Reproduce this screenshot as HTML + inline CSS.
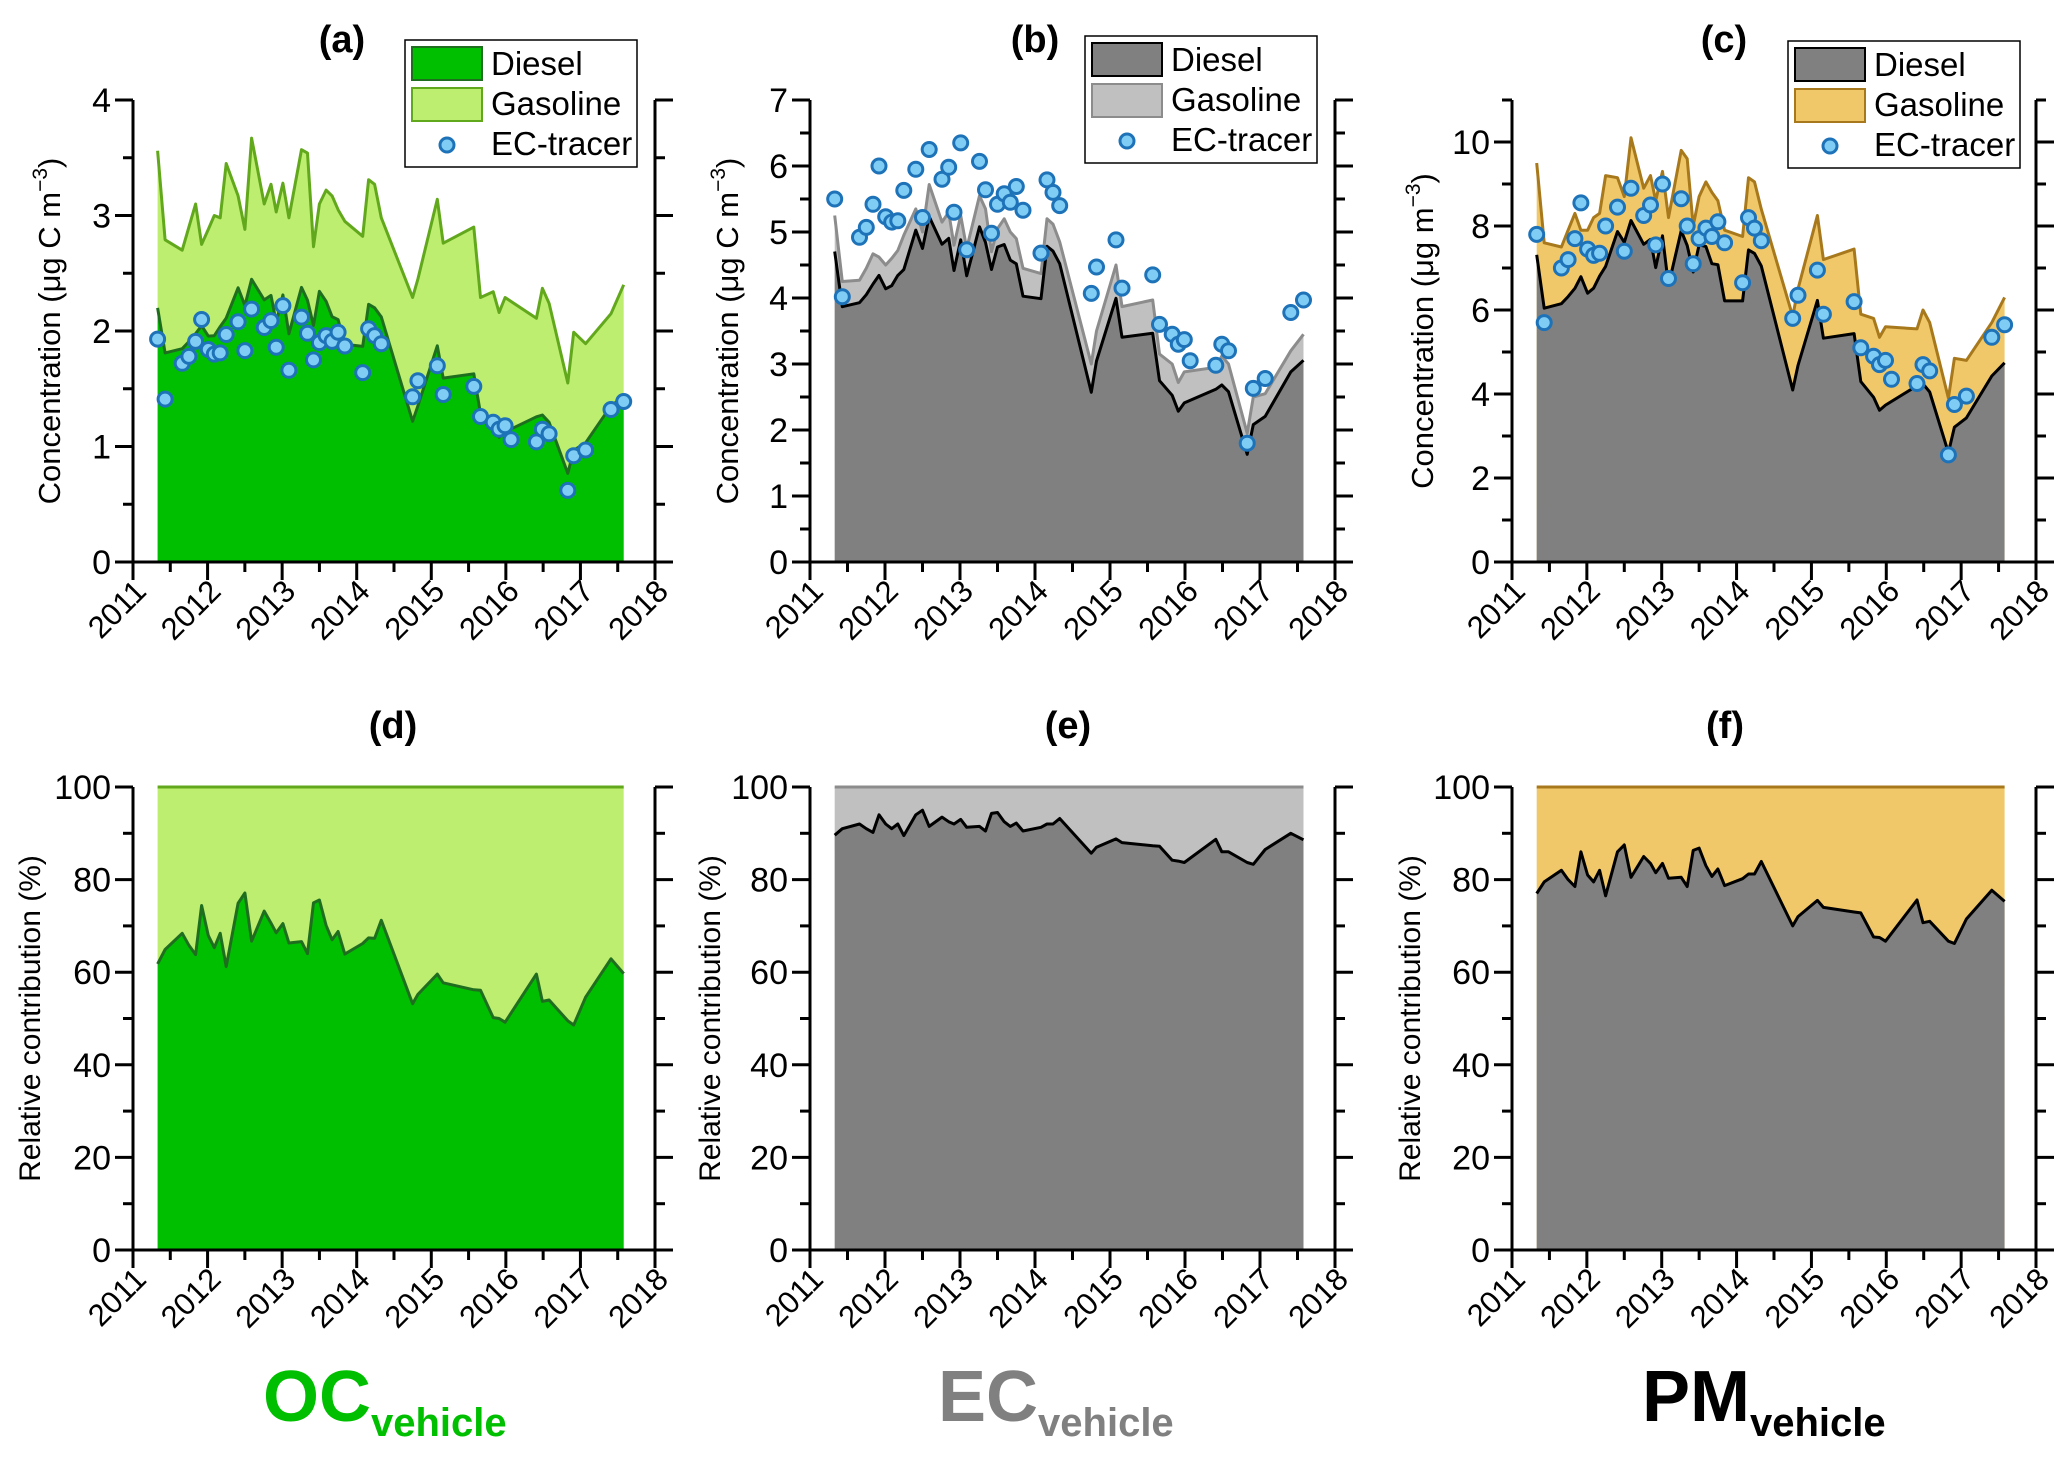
<!DOCTYPE html>
<html><head><meta charset="utf-8">
<style>
html,body{margin:0;padding:0;background:#fff;}
svg{display:block;font-family:"Liberation Sans",Arial,sans-serif;}
</style></head>
<body>
<svg id="fig" width="2067" height="1464" viewBox="0 0 2067 1464" xmlns="http://www.w3.org/2000/svg"></svg>
<script>
// ---- data ----
const dates = [2011.33,2011.43,2011.66,2011.75,2011.84,2011.92,2012.01,2012.09,2012.17,2012.25,2012.41,2012.50,2012.59,2012.76,2012.85,2012.92,2013.01,2013.09,2013.26,2013.34,2013.42,2013.50,2013.59,2013.67,2013.75,2013.84,2014.08,2014.16,2014.24,2014.33,2014.75,2014.82,2015.08,2015.16,2015.57,2015.66,2015.83,2015.91,2015.99,2016.41,2016.49,2016.58,2016.83,2016.91,2017.07,2017.41,2017.58];
const tracerDates = [2011.33,2011.43,2011.66,2011.75,2011.84,2011.92,2012.01,2012.09,2012.17,2012.25,2012.41,2012.50,2012.59,2012.76,2012.85,2012.92,2013.01,2013.09,2013.26,2013.34,2013.42,2013.50,2013.59,2013.67,2013.75,2013.84,2014.08,2014.16,2014.24,2014.33,2014.75,2014.82,2015.08,2015.16,2015.57,2015.66,2015.83,2015.91,2015.99,2016.07,2016.41,2016.49,2016.58,2016.83,2016.91,2017.07,2017.41,2017.58];
// OC
const ocTotal = [3.56,2.79,2.70,2.90,3.10,2.75,2.88,3.00,2.98,3.45,3.17,2.88,3.67,3.10,3.27,3.03,3.28,2.98,3.57,3.54,2.73,3.10,3.22,3.17,3.05,2.95,2.82,3.31,3.27,2.98,2.29,2.45,3.14,2.76,2.90,2.29,2.34,2.16,2.29,2.11,2.37,2.24,1.55,1.99,1.89,2.15,2.40];
const ocDieselShare = [61.8,64.9,68.4,65.8,63.8,74.4,67.9,65.3,68.4,61.2,74.9,77.1,66.7,73.2,70.6,68.5,70.5,66.3,66.6,64.0,75.0,75.6,70.1,67.0,68.8,63.9,66.2,67.4,67.3,71.2,53.2,55.2,59.6,57.7,56.2,56.1,50.2,50.0,49.2,59.6,53.7,54.0,49.5,48.6,54.6,62.9,59.7];
const ocTracer = [1.93,1.41,1.72,1.78,1.91,2.10,1.84,1.80,1.81,1.97,2.08,1.83,2.19,2.03,2.09,1.86,2.22,1.66,2.12,1.98,1.75,1.90,1.96,1.91,1.99,1.87,1.64,2.02,1.96,1.89,1.43,1.57,1.70,1.45,1.52,1.26,1.21,1.15,1.18,1.06,1.04,1.15,1.11,0.62,0.92,0.97,1.32,1.39];
// EC
const ecTotal = [5.25,4.25,4.27,4.45,4.67,4.62,4.50,4.60,4.72,4.95,5.35,5.00,5.72,5.15,5.30,4.80,5.25,4.75,5.55,5.35,4.70,5.05,5.20,5.00,4.90,4.45,4.37,5.20,5.12,4.85,3.00,3.50,4.50,3.87,3.97,3.15,3.00,2.72,2.88,2.95,3.12,3.00,1.95,2.50,2.55,3.20,3.45];
const ecDieselShare = [89.6,91.0,92.0,91.0,90.2,94.0,92.0,91.0,92.0,89.5,94.0,95.0,91.5,93.5,92.5,92.0,93.0,91.3,91.5,90.5,94.3,94.5,92.5,91.5,92.2,90.5,91.3,92.0,92.0,93.2,85.7,87.0,88.8,88.0,87.3,87.2,84.2,84.0,83.7,88.7,86.0,86.0,83.7,83.3,86.5,90.0,88.6];
const ecTracer = [5.50,4.02,4.92,5.07,5.42,6.00,5.23,5.15,5.17,5.63,5.95,5.22,6.25,5.80,5.98,5.30,6.35,4.73,6.07,5.64,4.98,5.42,5.58,5.45,5.69,5.33,4.68,5.79,5.60,5.40,4.07,4.47,4.88,4.15,4.35,3.60,3.45,3.30,3.37,3.05,2.98,3.30,3.20,1.80,2.63,2.78,3.78,3.97];
// PM
const pmTotal = [9.5,7.6,7.5,7.9,8.3,7.9,7.9,8.2,8.3,9.2,9.15,8.7,10.1,8.9,9.2,8.6,9.3,8.2,9.8,9.6,8.0,8.7,9.05,8.8,8.6,7.9,7.75,9.15,9.05,8.4,5.85,6.5,8.25,7.2,7.45,5.9,5.8,5.35,5.6,5.55,6.0,5.7,3.9,4.85,4.8,5.7,6.3];
const pmDieselShare = [77.0,79.5,82.0,80.0,78.5,86.0,81.0,79.5,82.0,76.5,86.0,87.5,80.5,85.0,83.5,81.5,83.5,80.3,80.5,78.5,86.3,86.8,83.0,80.7,82.3,78.7,80.2,81.2,81.2,83.9,70.0,72.0,75.5,74.0,73.0,72.8,67.6,67.5,66.7,75.6,70.7,71.0,66.7,66.2,71.5,77.7,75.3];
const pmTracer = [7.80,5.70,7.00,7.20,7.70,8.55,7.45,7.30,7.35,8.00,8.45,7.40,8.90,8.25,8.50,7.55,9.00,6.75,8.65,8.00,7.10,7.70,7.95,7.75,8.10,7.60,6.65,8.20,7.95,7.65,5.80,6.35,6.95,5.90,6.20,5.10,4.90,4.70,4.80,4.35,4.25,4.70,4.55,2.55,3.75,3.95,5.35,5.65];
const yearTicks = [2011,2012,2013,2014,2015,2016,2017,2018];

// ---- drawing ----
const NS = "http://www.w3.org/2000/svg";
const svg = document.getElementById('fig');
function mk(tag, attrs, parent){
  const e = document.createElementNS(NS, tag);
  for (const k in attrs) e.setAttribute(k, attrs[k]);
  (parent || svg).appendChild(e);
  return e;
}
function fmt(v){ return Math.round(v*10)/10; }

function panel(cfg){
  const g = mk('g', {});
  
  
  const X = yr => cfg.x0 + (yr - 2011) / 7 * (cfg.x1 - cfg.x0);
  const Y = v => cfg.yb - v / cfg.ymax * (cfg.yb - cfg.yt);
  const n = dates.length;
  const total = cfg.total, dies = cfg.diesel;
  let p = 'M' + X(dates[0]) + ' ' + Y(0);
  for (let i = 0; i < n; i++) p += ' L' + fmt(X(dates[i])) + ' ' + fmt(Y(total[i]));
  p += ' L' + X(dates[n-1]) + ' ' + Y(0) + ' Z';
  const ga = mk('path', {d: p, fill: cfg.gasFill, stroke: 'none'}, g);
  
  
  let q = 'M' + X(dates[0]) + ' ' + Y(0);
  for (let i = 0; i < n; i++) q += ' L' + fmt(X(dates[i])) + ' ' + fmt(Y(dies[i]));
  q += ' L' + X(dates[n-1]) + ' ' + Y(0) + ' Z';
  const da = mk('path', {d: q, fill: cfg.dieFill, stroke: 'none'}, g);
  
  
  let tl = '';
  for (let i = 0; i < n; i++) tl += (i ? ' L' : 'M') + fmt(X(dates[i])) + ' ' + fmt(Y(total[i]));
  const tline = mk('path', {d: tl, fill: 'none', stroke: cfg.gasLine, 'stroke-width': 3, 'stroke-linejoin': 'round'}, g);
  
  
  let dl = '';
  for (let i = 0; i < n; i++) dl += (i ? ' L' : 'M') + fmt(X(dates[i])) + ' ' + fmt(Y(dies[i]));
  const dline = mk('path', {d: dl, fill: 'none', stroke: cfg.dieLine, 'stroke-width': 3, 'stroke-linejoin': 'round'}, g);
  
  
  if (cfg.tracer){
    for (let i = 0; i < cfg.tracer.length; i++){
      const c = mk('circle', {cx: fmt(X(tracerDates[i])), cy: fmt(Y(cfg.tracer[i])), r: 7, fill: '#7fcdf4', stroke: '#1d72b8', 'stroke-width': 3}, g);
      
      
    }
  }
  const ax = mk('g', {stroke: '#000', 'stroke-width': 3, fill: 'none'}, g);
  
  
  mk('line', {x1: cfg.x0, y1: cfg.yt, x2: cfg.x0, y2: cfg.yb + 1.5}, ax);
  mk('line', {x1: cfg.x1, y1: cfg.yt, x2: cfg.x1, y2: cfg.yb + 1.5}, ax);
  mk('line', {x1: cfg.x0 - 18, y1: cfg.yb, x2: cfg.x1 + 18, y2: cfg.yb}, ax);
  const nt = Math.round(cfg.ymax / cfg.minor);
  for (let k = 0; k <= nt; k++){
    const v = k * cfg.minor, yy = Y(v);
    const major = Math.abs(v / cfg.label - Math.round(v / cfg.label)) < 1e-6;
    const L = major ? 18 : 10;
    mk('line', {x1: cfg.x0 - L, y1: yy, x2: cfg.x0, y2: yy}, ax);
    mk('line', {x1: cfg.x1, y1: yy, x2: cfg.x1 + L, y2: yy}, ax);
    if (major){
      const t = mk('text', {x: cfg.x0 - 22, y: yy + 12, 'text-anchor': 'end', 'font-size': 34, fill: '#000'}, g);
      t.textContent = String(Math.round(v));
      
      
    }
  }
  for (let k = 0; k < yearTicks.length; k++){
    const xx = X(yearTicks[k]);
    mk('line', {x1: xx, y1: cfg.yb, x2: xx, y2: cfg.yb + 18}, ax);
    if (k < yearTicks.length - 1){
      const xm = X(yearTicks[k] + 0.5);
      mk('line', {x1: xm, y1: cfg.yb, x2: xm, y2: cfg.yb + 10}, ax);
    }
    const tx = xx + 15, ty = cfg.yb + 31;
    const t = mk('text', {x: tx, y: ty, 'text-anchor': 'end', 'font-size': 31, fill: '#000', transform: 'rotate(-45 ' + tx + ' ' + ty + ')'}, g);
    t.textContent = String(yearTicks[k]);
    
    
  }
  const cy = (cfg.yt + cfg.yb) / 2;
  const at = mk('text', {x: cfg.titleX, y: cy, 'text-anchor': 'middle', 'font-size': cfg.titleSize, fill: '#000', transform: 'rotate(-90 ' + cfg.titleX + ' ' + cy + ')'}, g);
  at.innerHTML = cfg.title;
  
  
  const pl = mk('text', {x: cfg.labelX, y: cfg.labelY, 'text-anchor': 'middle', 'font-size': 38, 'font-weight': 'bold', fill: '#000'}, g);
  pl.textContent = cfg.letter;
  
  
  if (cfg.legend){
    const L = cfg.legend;
    const lg = mk('g', {}, g);
    
    
    mk('rect', {x: L.x, y: L.y, width: 232, height: 127, fill: '#fff', stroke: '#000', 'stroke-width': 1.5}, lg);
    mk('rect', {x: L.x + 7, y: L.y + 7, width: 70, height: 33, fill: cfg.dieFill, stroke: cfg.dieLine, 'stroke-width': 2}, lg);
    mk('rect', {x: L.x + 7, y: L.y + 48, width: 70, height: 33, fill: cfg.gasFill, stroke: cfg.gasLine, 'stroke-width': 2}, lg);
    mk('circle', {cx: L.x + 42, cy: L.y + 105, r: 7, fill: '#7fcdf4', stroke: '#1d72b8', 'stroke-width': 3}, lg);
    const names = ['Diesel', 'Gasoline', 'EC-tracer'];
    for (let i = 0; i < 3; i++){
      const t = mk('text', {x: L.x + 86, y: L.y + 35 + i * 40, 'font-size': 33, fill: '#000'}, lg);
      t.textContent = names[i];
      
      
    }
  }
}

const share = (tot, sh) => tot.map((v, i) => v * sh[i] / 100);
const hundred = dates.map(() => 100);
const topRow = {yt: 100, yb: 562, minor: 0.5};
const botRow = {yt: 787, yb: 1250, ymax: 100, minor: 10, label: 20};
const yt = 'Concentration (μg C m<tspan dy="-13" font-size="21">−3</tspan><tspan dy="13">)</tspan>';

panel(Object.assign({}, topRow, {name: 'panel-a-oc-concentration', x0: 133, x1: 655, ymax: 4, label: 1, total: ocTotal, diesel: share(ocTotal, ocDieselShare), tracer: ocTracer,
  gasFill: '#bdee70', gasLine: '#62a81c', dieFill: '#00bf00', dieLine: '#1f6e1f', title: yt, titleX: 60, titleSize: 31, letter: '(a)', labelX: 342, labelY: 52, legend: {x: 405, y: 40}}));
panel(Object.assign({}, topRow, {name: 'panel-b-ec-concentration', x0: 810, x1: 1335, ymax: 7, label: 1, total: ecTotal, diesel: share(ecTotal, ecDieselShare), tracer: ecTracer,
  gasFill: '#c0c0c0', gasLine: '#8c8c8c', dieFill: '#808080', dieLine: '#000', title: yt, titleX: 738, titleSize: 31, letter: '(b)', labelX: 1035, labelY: 52, legend: {x: 1085, y: 36}}));
panel(Object.assign({}, topRow, {name: 'panel-c-pm-concentration', x0: 1512, x1: 2036, ymax: 11, minor: 1, label: 2, total: pmTotal, diesel: share(pmTotal, pmDieselShare), tracer: pmTracer,
  gasFill: '#f0c86a', gasLine: '#a8791c', dieFill: '#808080', dieLine: '#000', title: 'Concentration (μg m<tspan dy="-13" font-size="21">−3</tspan><tspan dy="13">)</tspan>', titleX: 1433, titleSize: 31, letter: '(c)', labelX: 1724, labelY: 52, legend: {x: 1788, y: 41}}));

panel(Object.assign({}, botRow, {name: 'panel-d-oc-relative', x0: 133, x1: 655, total: hundred, diesel: ocDieselShare, gasFill: '#bdee70', gasLine: '#62a81c', dieFill: '#00bf00', dieLine: '#1f6e1f', title: 'Relative contribution (%)', titleX: 40, titleSize: 30, letter: '(d)', labelX: 393, labelY: 738}));
panel(Object.assign({}, botRow, {name: 'panel-e-ec-relative', x0: 810, x1: 1335, total: hundred, diesel: ecDieselShare, gasFill: '#c0c0c0', gasLine: '#8c8c8c', dieFill: '#808080', dieLine: '#000', title: 'Relative contribution (%)', titleX: 720, titleSize: 30, letter: '(e)', labelX: 1068, labelY: 738}));
panel(Object.assign({}, botRow, {name: 'panel-f-pm-relative', x0: 1512, x1: 2036, total: hundred, diesel: pmDieselShare, gasFill: '#f0c86a', gasLine: '#a8791c', dieFill: '#808080', dieLine: '#000', title: 'Relative contribution (%)', titleX: 1420, titleSize: 30, letter: '(f)', labelX: 1725, labelY: 738}));

const bigs = [['OC', '#00bf00', 263, 'oc-vehicle-label'], ['EC', '#808080', 938, 'ec-vehicle-label'], ['PM', '#000', 1642, 'pm-vehicle-label']];
for (const b of bigs){
  const t = mk('text', {x: b[2], y: 1421, 'font-size': 72, 'font-weight': 'bold', fill: b[1]});
  t.innerHTML = b[0] + '<tspan font-size="40" dy="15">vehicle</tspan>';
  
  
}
</script>
</body></html>
